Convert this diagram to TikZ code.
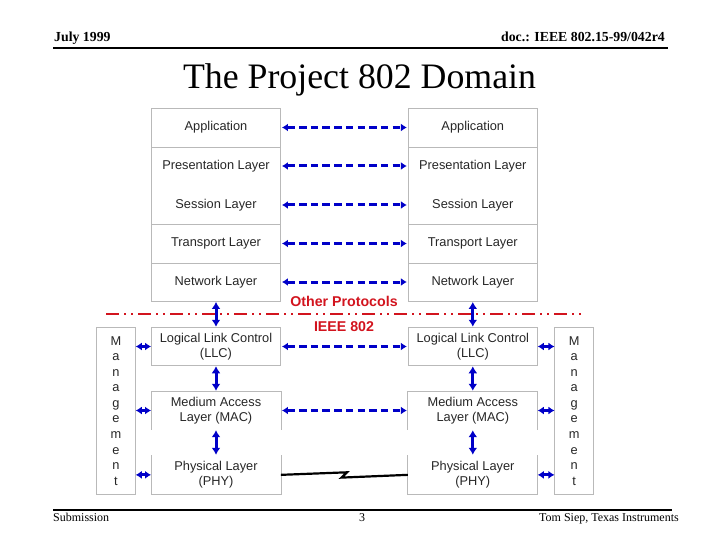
\documentclass[tikz,border=0pt]{standalone}
\usepackage{fontspec}
\setmainfont{Liberation Serif}
\newfontfamily\arialfont{Liberation Sans}
\usetikzlibrary{arrows.meta}
\definecolor{arrblue}{RGB}{0,0,200}
\definecolor{protred}{RGB}{210,20,30}
\definecolor{boxgray}{RGB}{185,185,185}
\tikzset{
  layerbox/.style={draw=boxgray, line width=0.9pt, minimum width=129pt, inner sep=0pt, font=\arialfont\fontsize{12.8}{15.5}\selectfont, align=center, text=black!85},
  openbox/.style={layerbox, draw=none},
  mgmtbox/.style={draw=boxgray, line width=0.9pt, minimum width=38.6pt, minimum height=166.3pt, inner sep=0pt, font=\arialfont\fontsize{12.8}{15.55}\selectfont, align=center, text=black!85},
  txt/.style={font=\arialfont\fontsize{12.8}{15.5}\selectfont, text=black!85, inner sep=0pt},
  peer/.style={arrblue, line width=3pt, dash pattern=on 7.5pt off 4.2pt, {Latex[length=6pt,width=8pt]}-{Latex[length=6pt,width=8pt]}, shorten <=1pt, shorten >=1pt},
  vert/.style={arrblue, line width=3pt, {Latex[length=7pt,width=9pt]}-{Latex[length=7pt,width=9pt]}, shorten <=0.5pt, shorten >=0.5pt},
  mgarr/.style={arrblue, line width=3pt, {Latex[length=6pt,width=8pt]}-{Latex[length=6pt,width=8pt]}},
  redtxt/.style={font=\arialfont\bfseries\fontsize{14.2}{16}\selectfont, text=protred, inner sep=0pt},
  hdr/.style={font=\bfseries\fontsize{13.8}{15}\selectfont, inner sep=0pt},
  ftr/.style={font=\fontsize{12}{14}\selectfont, inner sep=0pt},
}
\begin{document}
\begin{tikzpicture}[x=1pt,y=-1pt]
\useasboundingbox (0,0) rectangle (720,540);
% header
\node[hdr, anchor=base west] (date) at (54,41.7) {July 1999};
\node[hdr, anchor=base east] (doc) at (665,41.7) {doc.: IEEE 802.15-99/042r4};
\coordinate (hl) at (53,47.7);
\coordinate (hr) at (668,47.7);
\draw[line width=2pt] (hl) -- (hr);
\node[font=\fontsize{35.8}{40}\selectfont, inner sep=0pt, anchor=base] (title) at (359.5,88.3) {The Project 802 Domain};
% footer
\coordinate (fl) at (53,509.7);
\coordinate (fr) at (671.7,509.7);
\draw[line width=2pt] (fl) -- (fr);
\node[ftr, anchor=base west] (sub) at (53,521) {Submission};
\node[ftr, anchor=base] (pg) at (362,521) {3};
\node[ftr, anchor=base east] (auth) at (679,521) {Tom Siep, Texas Instruments};

% left upper stack
\node[layerbox, minimum height=39pt] (lapp) at (216,127.5) {Application};
\node[layerbox, minimum height=77pt] (lps) at (216,185.5) {};
\node[txt] (lpres) at (216,166) {Presentation Layer};
\node[txt] (lsess) at (216,205) {Session Layer};
\node[layerbox, minimum height=39pt] (ltra) at (216,243.5) {Transport Layer};
\node[layerbox, minimum height=38pt] (lnet) at (216,282) {Network Layer};
% right upper stack
\node[layerbox, minimum height=39pt] (rapp) at (472.8,127.5) {Application};
\node[layerbox, minimum height=77pt] (rps) at (472.8,185.5) {};
\node[txt] (rpres) at (472.8,166) {Presentation Layer};
\node[txt] (rsess) at (472.8,205) {Session Layer};
\node[layerbox, minimum height=39pt] (rtra) at (472.8,243.5) {Transport Layer};
\node[layerbox, minimum height=38pt] (rnet) at (472.8,282) {Network Layer};

% peer arrows upper
\draw[peer] (lapp.east) -- (rapp.west);
\draw[peer] (lpres -| lps.east) -- (rpres -| rps.west);
\draw[peer] (lsess -| lps.east) -- (rsess -| rps.west);
\draw[peer] (ltra.east) -- (rtra.west);
\draw[peer] (lnet.east) -- (rnet.west);

% boundary
\coordinate (bl) at (106,314);
\coordinate (br) at (582,314);
\draw[protred, line width=1.5pt, dash pattern=on 13pt off 5pt on 2pt off 5pt on 2pt off 5pt] (bl) -- (br);
\node[redtxt] (other) at (344,301) {Other Protocols};
\node[redtxt] (ieee) at (344,327) {IEEE 802};

% left lower stack
\node[layerbox, minimum height=37.6pt] (lllc) at (216,346.5) {Logical Link Control\\(LLC)};
\node[openbox, minimum height=37.5pt] (lmac) at (216,410.5) {Medium Access\\Layer (MAC)};
\draw[draw=boxgray, line width=0.9pt] (lmac.south west) -- (lmac.north west) -- (lmac.north east) -- (lmac.south east);
\node[openbox, minimum height=38.3pt] (lphy) at (216,474.85) {Physical Layer\\(PHY)};
\draw[draw=boxgray, line width=0.9pt] (lphy.north west) -- (lphy.south west) -- (lphy.south east) -- (lphy.north east);
% right lower stack
\node[layerbox, minimum height=37.6pt] (rllc) at (472.8,346.5) {Logical Link Control\\(LLC)};
\node[openbox, minimum height=37.5pt] (rmac) at (472.8,410.5) {Medium Access\\Layer (MAC)};
\draw[draw=boxgray, line width=0.9pt] (rmac.south west) -- (rmac.north west) -- (rmac.north east) -- (rmac.south east);
\node[openbox, minimum height=38.3pt] (rphy) at (472.8,474.85) {Physical Layer\\(PHY)};
\draw[draw=boxgray, line width=0.9pt] (rphy.north west) -- (rphy.south west) -- (rphy.south east) -- (rphy.north east);

% management boxes
\node[mgmtbox] (lmg) at (116,410.85) {M\\a\\n\\a\\g\\e\\m\\e\\n\\t};
\node[mgmtbox] (rmg) at (574.2,410.85) {M\\a\\n\\a\\g\\e\\m\\e\\n\\t};

% vertical arrows
\draw[vert] (lnet.south) -- (lllc.north);
\draw[vert] (lllc.south) -- (lmac.north);
\draw[vert] (lmac.south) -- (lphy.north);
\draw[vert] (rnet.south) -- (rllc.north);
\draw[vert] (rllc.south) -- (rmac.north);
\draw[vert] (rmac.south) -- (rphy.north);

% management arrows
\draw[mgarr] (lmg.east |- lllc.west) -- (lllc.west);
\draw[mgarr] (lmg.east |- lmac.west) -- (lmac.west);
\draw[mgarr] (lmg.east |- lphy.west) -- (lphy.west);
\draw[mgarr] (rllc.east) -- (rmg.west |- rllc.east);
\draw[mgarr] (rmac.east) -- (rmg.west |- rmac.east);
\draw[mgarr] (rphy.east) -- (rmg.west |- rphy.east);

% peer arrows lower
\draw[peer] (lllc.east) -- (rllc.west);
\draw[peer] (lmac.east) -- (rmac.west);

% physical link
\coordinate (z1) at (347,472.3);
\coordinate (z2) at (341.5,477.6);
\draw[line width=2.2pt, line join=miter] (lphy.east) -- (z1) -- (z2) -- (rphy.west);
\end{tikzpicture}
\end{document}
